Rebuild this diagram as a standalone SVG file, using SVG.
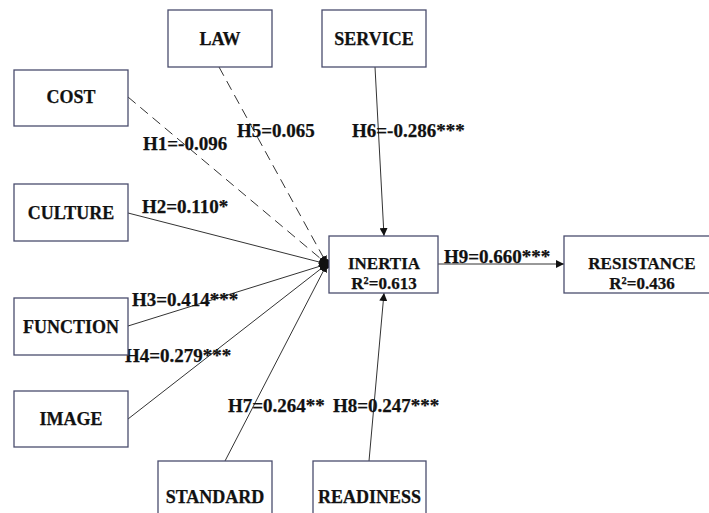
<svg xmlns="http://www.w3.org/2000/svg" width="709" height="513" viewBox="0 0 709 513">
<style>
.box{fill:#fff;stroke:#4a4d6e;stroke-width:1.3}
.t{font-family:"Liberation Serif","Times New Roman",serif;font-weight:bold;font-size:18px;fill:#111;stroke:#111;stroke-width:0.25;text-anchor:middle}
.s{font-size:17px}
.l{font-family:"Liberation Serif","Times New Roman",serif;font-weight:bold;font-size:19px;fill:#111;stroke:#111;stroke-width:0.25}
.c{stroke:#333;stroke-width:1;fill:none}
.d{stroke-dasharray:10 6}
</style>
<defs>
<marker id="a" viewBox="0 0 10 10" refX="10" refY="5" markerWidth="8" markerHeight="8" markerUnits="userSpaceOnUse" orient="auto">
<path d="M0,0 L10,5 L0,10 z" fill="#111"/>
</marker>
</defs>
<rect width="709" height="513" fill="#fff"/>
<g id="connectors">
<line class="c d" x1="128" y1="97" x2="327" y2="264" marker-end="url(#a)"/>
<line class="c d" x1="219" y1="67" x2="327" y2="264" marker-end="url(#a)"/>
<line class="c" x1="128" y1="213" x2="327" y2="264" marker-end="url(#a)"/>
<line class="c" x1="128" y1="326" x2="327" y2="264" marker-end="url(#a)"/>
<line class="c" x1="128" y1="419" x2="327" y2="264" marker-end="url(#a)"/>
<line class="c" x1="225" y1="461" x2="327" y2="264" marker-end="url(#a)"/>
<ellipse cx="327" cy="264" rx="3" ry="5" fill="#111"/>
<line class="c" x1="375" y1="67" x2="384" y2="236" marker-end="url(#a)"/>
<line class="c" x1="369" y1="461" x2="384" y2="293" marker-end="url(#a)"/>
<line class="c" x1="438" y1="264" x2="564" y2="264" marker-end="url(#a)"/>
</g>
<g id="labels">
<text class="l" x="143" y="150">H1=-0.096</text>
<text class="l" x="142" y="213">H2=0.110*</text>
<text class="l" x="132" y="306">H3=0.414***</text>
<text class="l" x="125" y="362">H4=0.279***</text>
<text class="l" x="237" y="137">H5=0.065</text>
<text class="l" x="352" y="137">H6=-0.286***</text>
<text class="l" x="228" y="412">H7=0.264**</text>
<text class="l" x="333" y="412">H8=0.247***</text>
<text class="l" x="444" y="263">H9=0.660***</text>
</g>
<g id="law"><rect class="box" x="168" y="10" width="104" height="57"/><text class="t" x="220" y="45">LAW</text></g>
<g id="service"><rect class="box" x="322" y="10" width="104" height="57"/><text class="t" x="374" y="45">SERVICE</text></g>
<g id="cost"><rect class="box" x="14" y="70" width="114" height="56"/><text class="t" x="71" y="103">COST</text></g>
<g id="culture"><rect class="box" x="14" y="184" width="114" height="57"/><text class="t" x="71" y="219">CULTURE</text></g>
<g id="function"><rect class="box" x="14" y="298" width="114" height="57"/><text class="t" x="71" y="333">FUNCTION</text></g>
<g id="image"><rect class="box" x="14" y="391" width="114" height="56"/><text class="t" x="71" y="425">IMAGE</text></g>
<g id="standard"><rect class="box" x="158" y="461" width="114" height="70"/><text class="t" x="215" y="503">STANDARD</text></g>
<g id="readiness"><rect class="box" x="313" y="461" width="113" height="70"/><text class="t" x="369.5" y="503">READINESS</text></g>
<g id="inertia"><rect class="box" x="329" y="236" width="109" height="57"/><text class="t s" x="384" y="269">INERTIA</text><text class="t s" x="384" y="289">R²=0.613</text></g>
<g id="resistance"><rect class="box" x="564" y="236" width="156" height="57"/><text class="t s" x="642" y="269">RESISTANCE</text><text class="t s" x="642" y="289">R²=0.436</text></g>
</svg>
